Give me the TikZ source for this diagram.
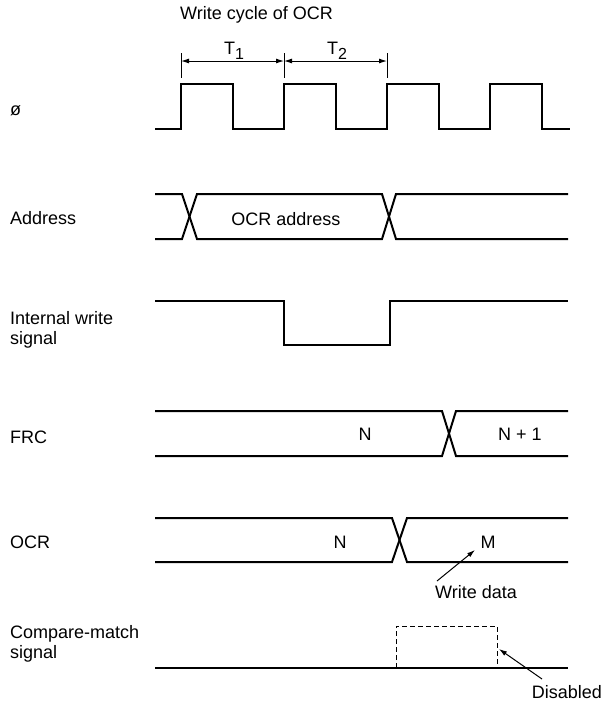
\documentclass[tikz,border=0pt]{standalone}
\usepackage{fontspec}
\setmainfont{Liberation Sans}
\usetikzlibrary{arrows.meta}
\begin{document}
\begin{tikzpicture}[x=1pt,y=-1pt,
  wave/.style={line width=2pt,line join=miter},
  lbl/.style={font=\fontsize{18}{21}\selectfont,inner sep=0pt},
  sig/.style={lbl,anchor=west},
  dimline/.style={line width=1pt,{Latex[length=8pt,width=5pt]}-{Latex[length=8pt,width=5pt]}},
  tickline/.style={line width=1pt},
  note/.style={line width=1pt,-{Latex[length=8pt,width=5pt]}},
  dashline/.style={line width=1pt,dash pattern=on 5pt off 3pt}]
\useasboundingbox (0,0) rectangle (611,705);
% title
\node[lbl,anchor=west] (title) at (180,15) {Write cycle of OCR};
% dimension ticks
\coordinate (t0a) at (181,53); \coordinate (t0b) at (181,78);
\coordinate (t1a) at (284,53); \coordinate (t1b) at (284,78);
\coordinate (t2a) at (387,53); \coordinate (t2b) at (387,78);
\draw[tickline] (t0a) -- (t0b);
\draw[tickline] (t1a) -- (t1b);
\draw[tickline] (t2a) -- (t2b);
\coordinate (d0) at (181,61); \coordinate (d1) at (284,61); \coordinate (d2) at (387,61);
\draw[dimline] (d0) -- (d1);
\draw[dimline] (d1) -- (d2);
\node[lbl] (T1) at (234,51) {T\raisebox{-0.5ex}{\fontsize{16}{16}\selectfont 1}};
\node[lbl] (T2) at (337,51) {T\raisebox{-0.5ex}{\fontsize{16}{16}\selectfont 2}};
% signal labels
\node[sig] (lphi) at (10,111) {ø};
\node[sig] (laddr) at (10,218) {Address};
\node[sig] (liw1) at (10,318) {Internal write};
\node[sig] (liw2) at (10,340) {signal};
\node[sig] (lfrc) at (10,437) {FRC};
\node[sig] (locr) at (10,542) {OCR};
\node[sig] (lcm1) at (10,634) {Compare-match};
\node[sig] (lcm2) at (10,654) {signal};
% clock
\draw[wave] (155,129) -- (181,129) -- (181,84) -- (233,84) -- (233,129) -- (284,129) -- (284,84) -- (336,84) -- (336,129) -- (387,129) -- (387,84) -- (439,84) -- (439,129) -- (490,129) -- (490,84) -- (542,84) -- (542,129) -- (570,129);
% address
\draw[wave] (155,194) -- (182,194) -- (197,239) -- (382,239) -- (396,194) -- (568,194);
\draw[wave] (155,239) -- (182,239) -- (197,194) -- (382,194) -- (396,239) -- (568,239);
\node[lbl] (oaddr) at (286,219) {OCR address};
% internal write
\draw[wave] (155,301) -- (284,301) -- (284,345) -- (390,345) -- (390,301) -- (568,301);
% FRC
\draw[wave] (155,411) -- (442,411) -- (456,456) -- (568,456);
\draw[wave] (155,456) -- (442,456) -- (456,411) -- (568,411);
\node[lbl] (frcN) at (365,434) {N};
\node[lbl] (frcN1) at (520,434) {N + 1};
% OCR
\draw[wave] (155,518) -- (392,518) -- (407,562) -- (568,562);
\draw[wave] (155,562) -- (392,562) -- (407,518) -- (568,518);
\node[lbl] (ocrN) at (340,542) {N};
\node[lbl] (ocrM) at (488,542) {M};
\node[lbl] (wdata) at (476,592) {Write data};
\coordinate (wtail) at (437,581);
\coordinate (whead) at (475,550);
\draw[note] (wtail) -- (whead);
% compare match
\draw[wave] (155,668) -- (568,668);
\draw[dashline] (396,668) -- (396,626) -- (497,626) -- (497,668);
\node[lbl] (dis) at (567,692) {Disabled};
\coordinate (dtail) at (542,679);
\coordinate (dhead) at (499,649);
\draw[note] (dtail) -- (dhead);
\end{tikzpicture}
\end{document}
